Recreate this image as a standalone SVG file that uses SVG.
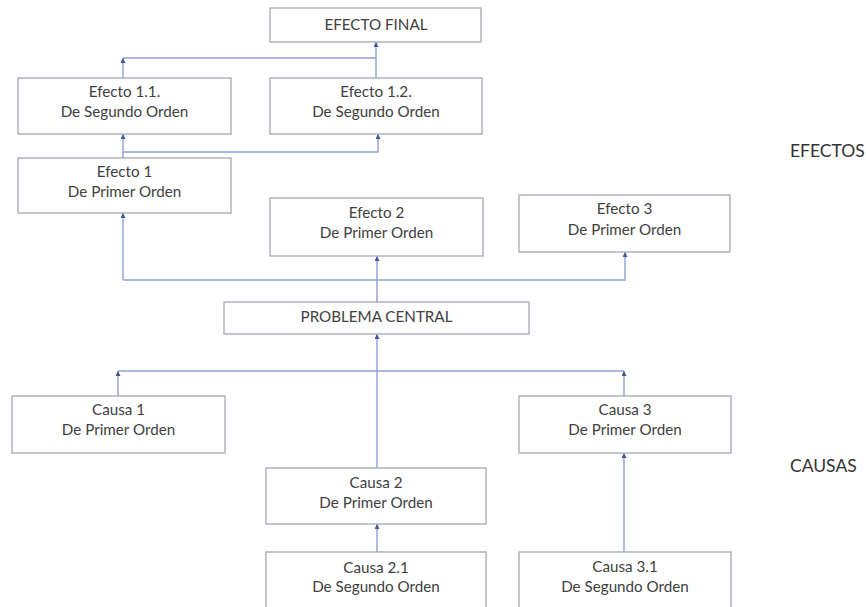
<svg xmlns="http://www.w3.org/2000/svg" width="866" height="607" viewBox="0 0 866 607">
<defs>
<style>
.box{fill:#ffffff;stroke:#a3a7b5;stroke-width:1.3}
.t{font-family:Lato,"Liberation Sans",sans-serif;font-size:15.2px;fill:#404040;text-anchor:middle}
.lbl{font-family:Lato,"Liberation Sans",sans-serif;font-size:17.5px;fill:#333333}
.ln{fill:none;stroke:#8e9fd3;stroke-width:1.4}
.ar{fill:none;stroke:#8e9fd3;stroke-width:1.4;marker-end:url(#ah)}
</style>
<marker id="ah" viewBox="0 0 6 6" refX="6" refY="3" markerWidth="5" markerHeight="5" markerUnits="userSpaceOnUse" orient="auto">
<path d="M0,0 L6,3 L0,6 z" fill="#44558f"/>
</marker>
</defs>
<rect width="866" height="607" fill="#ffffff"/>
<g id="connectors">
<path class="ar" d="M376,78 V42"/>
<path class="ln" d="M376,58 H123"/>
<path class="ar" d="M123,78 V58"/>
<path class="ar" d="M123,158 V134"/>
<path class="ar" d="M123,152 H378 V134"/>
<path class="ar" d="M123,280 V213"/>
<path class="ar" d="M123,280 H625 V252"/>
<path class="ar" d="M377,302 V256"/>
<path class="ar" d="M377,468 V334"/>
<path class="ln" d="M118,371 H624"/>
<path class="ar" d="M118,396 V371"/>
<path class="ar" d="M624,396 V371"/>
<path class="ar" d="M377,552 V524"/>
<path class="ar" d="M624,552 V453"/>
</g>
<g id="efecto-final"><rect class="box" x="270" y="8" width="211" height="34"/><text class="t" x="376" y="30">EFECTO FINAL</text></g>
<g id="efecto-1-1"><rect class="box" x="18" y="78" width="213" height="56"/><text class="t" x="124.5" y="97">Efecto 1.1.</text><text class="t" x="124.5" y="117">De Segundo Orden</text></g>
<g id="efecto-1-2"><rect class="box" x="270" y="78" width="212" height="56"/><text class="t" x="376" y="97">Efecto 1.2.</text><text class="t" x="376" y="117">De Segundo Orden</text></g>
<g id="efecto-1"><rect class="box" x="18" y="158" width="213" height="55"/><text class="t" x="124.5" y="177">Efecto 1</text><text class="t" x="124.5" y="197">De Primer Orden</text></g>
<g id="efecto-2"><rect class="box" x="270" y="198" width="213" height="58"/><text class="t" x="376.5" y="218">Efecto 2</text><text class="t" x="376.5" y="238">De Primer Orden</text></g>
<g id="efecto-3"><rect class="box" x="519" y="195" width="211" height="57"/><text class="t" x="624.5" y="214">Efecto 3</text><text class="t" x="624.5" y="235">De Primer Orden</text></g>
<g id="problema-central"><rect class="box" x="224" y="302" width="305" height="32"/><text class="t" x="376.5" y="322">PROBLEMA CENTRAL</text></g>
<g id="causa-1"><rect class="box" x="12" y="396" width="213" height="57"/><text class="t" x="118.5" y="415">Causa 1</text><text class="t" x="118.5" y="435">De Primer Orden</text></g>
<g id="causa-3"><rect class="box" x="519" y="396" width="212" height="57"/><text class="t" x="625" y="415">Causa 3</text><text class="t" x="625" y="435">De Primer Orden</text></g>
<g id="causa-2"><rect class="box" x="266" y="468" width="220" height="56"/><text class="t" x="376" y="488">Causa 2</text><text class="t" x="376" y="508">De Primer Orden</text></g>
<g id="causa-2-1"><rect class="box" x="266" y="552" width="220" height="70"/><text class="t" x="376" y="573">Causa 2.1</text><text class="t" x="376" y="592">De Segundo Orden</text></g>
<g id="causa-3-1"><rect class="box" x="519" y="552" width="212" height="70"/><text class="t" x="625" y="572">Causa 3.1</text><text class="t" x="625" y="592">De Segundo Orden</text></g>
<g id="label-efectos"><text class="lbl" x="790" y="157">EFECTOS</text></g>
<g id="label-causas"><text class="lbl" x="790" y="472">CAUSAS</text></g>
</svg>
